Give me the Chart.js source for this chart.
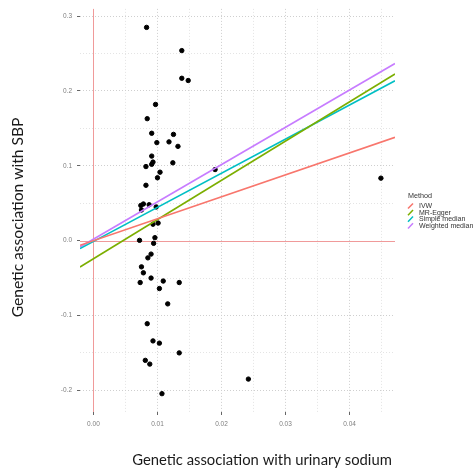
<!DOCTYPE html>
<html>
<head>
<meta charset="utf-8">
<script src="https://cdn.jsdelivr.net/npm/chart.js@4.4.1/dist/chart.umd.min.js"></script>
<style>
  html,body{margin:0;padding:0;background:#fff;}
  #wrap{width:474px;height:469px;}
</style>
</head>
<body>
<div id="wrap"><canvas id="mr" width="474" height="469"></canvas></div>
<script>
// methods and their colours (ggplot defaults)
const methods = ["IVW", "MR-Egger", "Simple median", "Weighted median"];
const methodColors = ["#F8766D", "#7CAE00", "#00BFC4", "#C77CFF"];

// SNP estimates: association with urinary sodium (x) and with SBP (y)
const sodiumAssoc = [0.0083, 0.0138, 0.0138, 0.0148, 0.0097, 0.0084, 0.0091, 0.0125, 0.0118, 0.0099,
  0.0132, 0.0091, 0.0093, 0.0091, 0.0082, 0.0124, 0.0104, 0.0100, 0.0082, 0.0190,
  0.0074, 0.0078, 0.0087, 0.0075, 0.0098, 0.0093, 0.0101, 0.0072, 0.0096, 0.0094,
  0.0090, 0.0085, 0.0075, 0.0078, 0.0090, 0.0073, 0.0109, 0.0134, 0.0103, 0.0116,
  0.0084, 0.0093, 0.0103, 0.0134, 0.0081, 0.0088, 0.0107, 0.0242, 0.0449];
const sbpAssoc = [0.285, 0.254, 0.217, 0.214, 0.182, 0.163, 0.1435, 0.142, 0.132, 0.131,
  0.126, 0.113, 0.105, 0.102, 0.099, 0.104, 0.0915, 0.084, 0.074, 0.095,
  0.047, 0.049, 0.048, 0.041, 0.045, 0.022, 0.0235, 0.0004, 0.004, -0.0036,
  -0.018, -0.023, -0.035, -0.043, -0.050, -0.056, -0.054, -0.056, -0.064, -0.0845,
  -0.111, -0.134, -0.137, -0.150, -0.160, -0.165, -0.2045, -0.185, 0.0835];

// fitted lines, value at left and right edge of the panel
const xRange = [-0.0021, 0.0471];
const yRange = [-0.229, 0.3097];
const fitStartY = [-0.0063, -0.0352, -0.0107, -0.0085];
const fitEndY = [0.138, 0.2227, 0.2137, 0.2368];

const xTickLabels = ["0.00", "0.01", "0.02", "0.03", "0.04"];
const yTickLabels = ["-0.2", "-0.1", "0.0", "0.1", "0.2", "0.3"];

function findLabel(labels, v){
  const hit = labels.find(l => Math.abs(parseFloat(l) - v) < 1e-6);
  return hit === undefined ? null : hit;
}

const points = sodiumAssoc.map((x, i) => ({x: x, y: sbpAssoc[i]}));
const fitSets = methods.map((m, i) => ({
  label: m,
  data: [{x: xRange[0], y: fitStartY[i]}, {x: xRange[1], y: fitEndY[i]}],
  showLine: true,
  borderColor: methodColors[i],
  backgroundColor: methodColors[i],
  borderWidth: 1.6,
  pointRadius: 0,
  order: 0
}));

function axisOpts(labels, min, max, step, fitFn){
  return {
    type: "linear", min: min, max: max,
    afterFit: fitFn,
    border: {display: false, dash: [1, 2]},
    grid: {
      // zero lines are drawn separately by the zeroLines plugin
      color: c => {
        const v = c.tick.value;
        if (Math.abs(v) < 1e-9) return "rgba(0,0,0,0)";
        return findLabel(labels, v) !== null ? "#cfcfcf" : "#e4e4e4";
      },
      lineWidth: 1,
      tickLength: 3,
      tickColor: c => findLabel(labels, c.tick.value) !== null ? "#666" : "rgba(0,0,0,0)"
    },
    ticks: {
      stepSize: step,
      includeBounds: false,
      autoSkip: false,
      maxRotation: 0,
      padding: 5,
      color: "#7f7f7f",
      font: {family: "'Liberation Sans', Arial", size: 6.5},
      callback: v => findLabel(labels, v) || ""
    }
  };
}

const zeroLines = {
  id: "zeroLines",
  beforeDatasetsDraw(chart){
    const {ctx, chartArea: a, scales} = chart;
    const x0 = Math.round(scales.x.getPixelForValue(0)) + 0.5;
    const y0 = Math.round(scales.y.getPixelForValue(0)) + 0.5;
    ctx.save();
    ctx.strokeStyle = "#f09a9a";
    ctx.lineWidth = 1;
    ctx.beginPath();
    ctx.moveTo(x0, a.top);
    ctx.lineTo(x0, a.bottom);
    ctx.moveTo(a.left, y0);
    ctx.lineTo(a.right, y0);
    ctx.stroke();
    ctx.restore();
  }
};

const overlayText = {
  id: "overlayText",
  afterDraw(chart){
    const ctx = chart.ctx;
    ctx.save();
    ctx.fillStyle = "#1a1a1a";
    ctx.textAlign = "center";
    ctx.textBaseline = "middle";
    ctx.font = "14.8px Lato";
    ctx.fillText("Genetic association with urinary sodium", 262, 460);
    ctx.translate(18, 217.5);
    ctx.rotate(-Math.PI / 2);
    ctx.font = "15.6px Lato";
    ctx.fillText("Genetic association with SBP", 0, 0);
    ctx.restore();

    // legend
    ctx.save();
    ctx.textAlign = "left";
    ctx.textBaseline = "middle";
    ctx.fillStyle = "#333";
    ctx.font = "7.2px 'Liberation Sans', Arial";
    ctx.fillText("Method", 408, 196);
    ctx.font = "7px 'Liberation Sans', Arial";
    chart.data.datasets.filter(d => d.showLine).forEach((d, i) => {
      const y = 206 + i * 6.6;
      ctx.strokeStyle = d.borderColor;
      ctx.lineWidth = 1.5;
      ctx.beginPath();
      ctx.moveTo(408, y + 2.6);
      ctx.lineTo(413, y - 2.6);
      ctx.stroke();
      ctx.fillStyle = "#333";
      ctx.fillText(d.label, 419, y);
    });
    ctx.restore();
  }
};

new Chart(document.getElementById("mr"), {
  type: "scatter",
  data: {
    datasets: [{
      label: "SNPs",
      data: points,
      backgroundColor: "#000",
      borderColor: "#000",
      pointRadius: 2.2,
      pointHoverRadius: 2.2,
      order: 10
    }].concat(fitSets)
  },
  options: {
    responsive: false,
    animation: false,
    devicePixelRatio: 1,
    layout: {padding: {top: 8, right: 79, left: 0, bottom: 0}},
    plugins: {legend: {display: false}, tooltip: {enabled: false}},
    scales: {
      x: axisOpts(xTickLabels, xRange[0], xRange[1], 0.005, s => { s.height = 57; }),
      y: axisOpts(yTickLabels, yRange[0], yRange[1], 0.05, s => { s.width = 80; })
    }
  },
  plugins: [zeroLines, overlayText]
});
</script>
</body>
</html>
